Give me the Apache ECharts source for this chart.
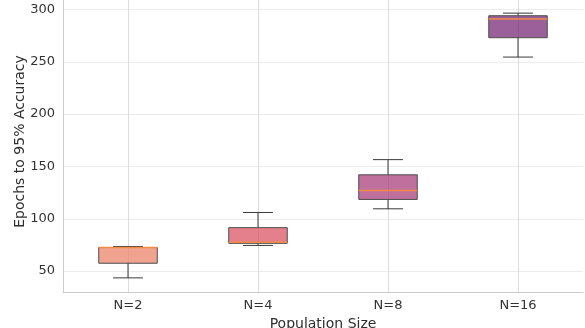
<!DOCTYPE html>
<html>
<head>
<meta charset="utf-8">
<script src="https://cdn.jsdelivr.net/npm/echarts@6/dist/echarts.min.js"></script>
<style>
  html, body { margin: 0; padding: 0; background: #ffffff; }
  #chart { width: 585px; height: 328px; }
</style>
</head>
<body>
<div id="chart"></div>
<script>
// Population sizes on the x axis
const categories = ['N=2', 'N=4', 'N=8', 'N=16'];
// Box statistics per population size: epochs to reach 95% accuracy
const lowWhisker  = [43.5, 74.5, 109.5, 254.5];
const lowerQuart  = [57.5, 76.5, 118.5, 273];
const medians     = [72.5, 77.5, 127, 291];
const upperQuart  = [72.5, 91.5, 142, 294];
const highWhisker = [73.5, 106, 156.5, 296.5];
// Box fills
const boxColors = [
  'rgba(235,134,107,0.75)',
  'rgba(218,86,102,0.75)',
  'rgba(171,64,123,0.75)',
  'rgba(122,43,120,0.75)'
];
// Horizontal grid: minor step of 10, drawn only every 50
const yMin = 30;
const yMax = 310;
const yStep = 10;
const gridEvery = 50;

const rows = categories.map((c, i) =>
  [i, lowWhisker[i], lowerQuart[i], medians[i], upperQuart[i], highWhisker[i]]);

// one colour per 10-step line, visible only on multiples of 50
const cycle = gridEvery / yStep;
const gridColors = [];
for (let k = 0; k < cycle; k++) {
  const v = yMin + k * yStep;
  gridColors.push(v % gridEvery === 0 ? '#ececec' : 'rgba(0,0,0,0)');
}

function renderBox(params, api) {
  const x = api.value(0);
  const band = api.size([1, 0])[0];
  const half = band * 0.225;
  const capHalf = band * 0.115;
  const pLow = api.coord([x, api.value(1)]);
  const pQ1 = api.coord([x, api.value(2)]);
  const pMed = api.coord([x, api.value(3)]);
  const pQ3 = api.coord([x, api.value(4)]);
  const pHigh = api.coord([x, api.value(5)]);
  const cx = pQ1[0];
  const lineStyle = { stroke: '#3a3a3a', lineWidth: 1, fill: null };
  return {
    type: 'group',
    children: [
      { type: 'line', shape: { x1: cx, y1: pQ1[1], x2: cx, y2: pLow[1] }, style: lineStyle },
      { type: 'line', shape: { x1: cx, y1: pQ3[1], x2: cx, y2: pHigh[1] }, style: lineStyle },
      { type: 'line', shape: { x1: cx - capHalf, y1: pLow[1], x2: cx + capHalf, y2: pLow[1] }, style: lineStyle },
      { type: 'line', shape: { x1: cx - capHalf, y1: pHigh[1], x2: cx + capHalf, y2: pHigh[1] }, style: lineStyle },
      { type: 'rect',
        shape: { x: cx - half, y: pQ3[1], width: half * 2, height: pQ1[1] - pQ3[1] },
        style: { fill: boxColors[params.dataIndex], stroke: '#4d4d4d', lineWidth: 1 } },
      { type: 'line', shape: { x1: cx - half, y1: pMed[1], x2: cx + half, y2: pMed[1] },
        style: { stroke: '#ef8a47', lineWidth: 1.5 } }
    ]
  };
}

const chart = echarts.init(document.getElementById('chart'), null, { renderer: 'canvas' });
chart.setOption({
  backgroundColor: '#ffffff',
  animation: false,
  textStyle: { fontFamily: 'DejaVu Sans' },
  grid: { left: 63, right: 2, top: -1, bottom: 36, containLabel: false, outerBoundsMode: 'none' },
  xAxis: {
    type: 'category',
    data: categories,
    boundaryGap: true,
    name: 'Population Size',
    nameLocation: 'middle',
    nameGap: 25,
    nameMoveOverlap: false,
    nameTextStyle: { fontSize: 14, color: '#2e2e2e', fontFamily: 'DejaVu Sans' },
    axisLine: { show: true, lineStyle: { color: '#cccccc', width: 1 } },
    axisTick: { show: false },
    axisLabel: { fontSize: 13, color: '#333333', margin: 7, fontFamily: 'DejaVu Sans' },
    splitLine: { show: true, alignWithLabel: true, lineStyle: { color: '#dcdcdc', width: 1 } }
  },
  yAxis: {
    type: 'value',
    min: yMin,
    max: yMax,
    interval: yStep,
    name: 'Epochs to 95% Accuracy',
    nameLocation: 'middle',
    nameGap: 36,
    nameRotate: 90,
    nameMoveOverlap: false,
    nameTextStyle: { fontSize: 14, color: '#2e2e2e', fontFamily: 'DejaVu Sans', padding: [0, 0, 0, 8] },
    axisLine: { show: true, lineStyle: { color: '#cccccc', width: 1 } },
    axisTick: { show: false },
    axisLabel: {
      fontSize: 13, color: '#333333', margin: 8, fontFamily: 'DejaVu Sans',
      formatter: v => (v % gridEvery === 0 ? String(v) : '')
    },
    splitLine: { show: true, lineStyle: { color: gridColors, width: 1 } }
  },
  series: [{
    type: 'custom',
    renderItem: renderBox,
    encode: { x: 0, y: [1, 2, 3, 4, 5] },
    data: rows,
    z: 3
  }]
});
</script>
</body>
</html>
